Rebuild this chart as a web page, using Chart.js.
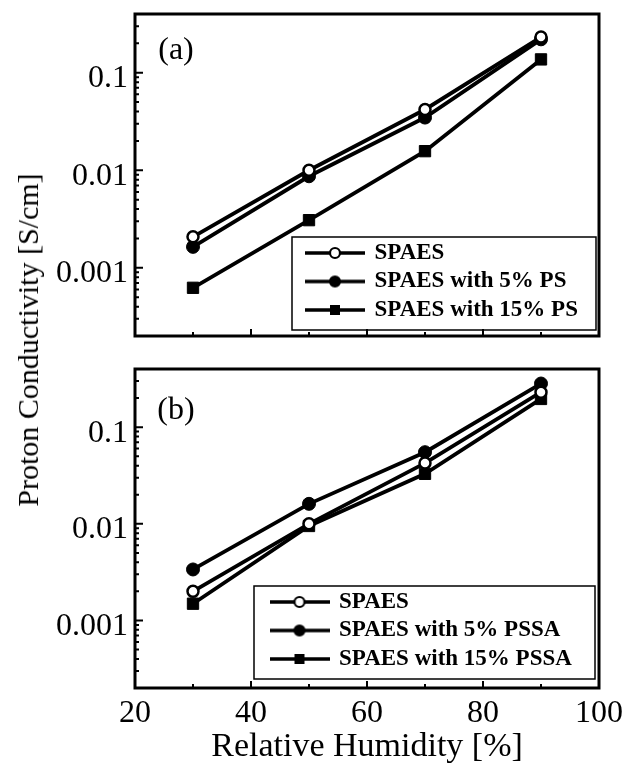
<!DOCTYPE html>
<html>
<head>
<title>Proton Conductivity vs Relative Humidity</title>
<script src="https://cdn.jsdelivr.net/npm/chart.js"></script>
<style>
  body { margin: 0; width: 625px; height: 767px; position: relative; background: #fff; overflow: hidden; }
  canvas { position: absolute; left: 0; }
  #topChart { top: 0; }
  #botChart { top: 350px; }
  #ytitle { position: absolute; left: 28px; top: 340px; transform: translate(-50%, -50%) rotate(-90deg);
            font: 30px "Liberation Serif", "Times New Roman", serif; color: #000; white-space: nowrap; }
</style>
</head>
<body>
<canvas id="topChart" width="625" height="350"></canvas>
<canvas id="botChart" width="625" height="417"></canvas>
<div id="ytitle">Proton Conductivity [S/cm]</div>
<script>
// relative humidity [%]
var rh = [30, 50, 70, 90];

// panel (a), S/cm
var spaesA = [0.00208, 0.0100, 0.0420, 0.232];
var ps5    = [0.00164, 0.00868, 0.0347, 0.220];
var ps15   = [0.000624, 0.00308, 0.0157, 0.137];

// panel (b), S/cm
var spaesB = [0.00200, 0.0100, 0.0425, 0.230];
var pssa5  = [0.00337, 0.0161, 0.0551, 0.283];
var pssa15 = [0.00149, 0.0095, 0.0329, 0.196];

var namesA = ['SPAES', 'SPAES with 5% PS', 'SPAES with 15% PS'];
var namesB = ['SPAES', 'SPAES with 5% PSSA', 'SPAES with 15% PSSA'];

var xTicks = [20, 40, 60, 80, 100];
var xMinor = [30, 50, 70, 90];
var yTicks = [0.001, 0.01, 0.1];
var yTickLabels = ['0.001', '0.01', '0.1'];

const SERIF = '"Liberation Serif", "Times New Roman", serif';
const shapes = ['circle', 'circle', 'rect'];
const fills = ['#fff', '#000', '#000'];

// little line+marker pictures for the legend
function glyph(shape, fill) {
  const c = document.createElement('canvas');
  c.width = 60; c.height = 18;
  const g = c.getContext('2d');
  g.strokeStyle = '#000'; g.lineWidth = 3.5;
  g.beginPath(); g.moveTo(0, 9); g.lineTo(60, 9); g.stroke();
  g.fillStyle = fill; g.lineWidth = 2.2;
  if (shape === 'rect') {
    g.fillRect(25, 4, 10, 10);
  } else {
    g.beginPath(); g.arc(30, 9, 5, 0, Math.PI * 2); g.fill(); g.stroke();
  }
  return c;
}
const glyphs = shapes.map((s, i) => glyph(s, fills[i]));

function makeSets(series, names) {
  return series.map((ys, i) => ({
    label: names[i],
    data: rh.map((x, j) => ({ x: x, y: ys[j] })),
    borderColor: '#000',
    borderWidth: 3.8,
    tension: 0,
    fill: false,
    pointStyle: shapes[i],
    pointRadius: shapes[i] === 'rect' ? 8 : (i === 0 ? 5.5 : 6.5),
    pointBackgroundColor: fills[i],
    pointBorderColor: '#000',
    pointBorderWidth: i === 0 ? 2.5 : 1
  }));
}

const framePlugin = {
  id: 'frame',
  afterLayout(chart, args, o) {
    chart.legend.left = o.legendX;
    chart.legend.top = o.legendY;
    chart.legend.bottom = chart.height;
  },
  afterDraw(chart, args, o) {
    const ctx = chart.ctx, a = chart.chartArea, sx = chart.scales.x, sy = chart.scales.y;
    ctx.save();
    ctx.strokeStyle = '#000';
    ctx.lineWidth = 1.5;
    ctx.strokeRect(o.box[0], o.box[1], o.box[2], o.box[3]);
    ctx.lineWidth = 2;
    ctx.beginPath();
    for (let e = -4; e <= 0; e++) {
      for (let k = 1; k <= 9; k++) {
        const v = k * Math.pow(10, e);
        if (v < sy.min * 0.999 || v > sy.max * 1.001) continue;
        const y = sy.getPixelForValue(v);
        ctx.moveTo(a.left, y); ctx.lineTo(a.left + (k === 1 ? 8 : 4), y);
      }
    }
    xTicks.forEach(v => { const x = sx.getPixelForValue(v); ctx.moveTo(x, a.bottom); ctx.lineTo(x, a.bottom - 7); });
    xMinor.forEach(v => { const x = sx.getPixelForValue(v); ctx.moveTo(x, a.bottom); ctx.lineTo(x, a.bottom - 4); });
    ctx.stroke();
    ctx.lineWidth = 3;
    ctx.strokeRect(a.left, a.top, a.right - a.left, a.bottom - a.top);
    ctx.fillStyle = '#000';
    ctx.font = '32px ' + SERIF;
    ctx.textAlign = 'center';
    ctx.textBaseline = 'middle';
    ctx.fillText(o.tag, o.tagX, o.tagY);
    ctx.restore();
  }
};

function makeChart(id, sets, names, showX, padTop, xHeight, pos) {
  return new Chart(document.getElementById(id), {
    type: 'line',
    data: { datasets: makeSets(sets, names) },
    plugins: [framePlugin],
    options: {
      responsive: false,
      animation: false,
      events: [],
      layout: { padding: { top: padTop, right: 26, left: 0, bottom: 0 } },
      scales: {
        x: {
          type: 'linear', min: 20, max: 100,
          grid: { display: false, drawTicks: false },
          border: { display: false },
          afterBuildTicks: s => { s.ticks = xTicks.map(v => ({ value: v })); },
          ticks: { display: showX, autoSkip: false, maxRotation: 0, padding: 6, color: '#000',
                   font: { family: SERIF, size: 32 } },
          title: { display: showX, text: 'Relative Humidity [%]', color: '#000',
                   font: { family: SERIF, size: 34 }, padding: { top: 0, bottom: 0 } },
          afterFit: s => { s.height = xHeight; s.paddingLeft = 0; s.paddingRight = 0; }
        },
        y: {
          type: 'logarithmic', min: 0.0002, max: 0.4,
          grid: { display: false, drawTicks: false },
          border: { display: false },
          afterBuildTicks: s => { s.ticks = yTicks.map(v => ({ value: v })); },
          ticks: { autoSkip: false, padding: 7, labelOffset: 6, color: '#000',
                   font: { family: SERIF, size: 32 },
                   callback: (v, i) => yTickLabels[i] },
          afterFit: s => { s.width = 135; s.paddingTop = 0; s.paddingBottom = 0; }
        }
      },
      plugins: {
        tooltip: { enabled: false },
        title: { display: false },
        legend: {
          position: 'chartArea',
          align: 'start',
          labels: {
            usePointStyle: true,
            pointStyleWidth: 56,
            padding: 5.5,
            color: '#000',
            font: { family: SERIF, size: 23, weight: 'bold' },
            generateLabels: ch => ch.data.datasets.map((d, i) => ({
              text: d.label, pointStyle: glyphs[i], datasetIndex: i, hidden: false,
              lineWidth: 0, fillStyle: '#000', strokeStyle: '#000', fontColor: '#000'
            }))
          }
        },
        frame: pos
      }
    }
  });
}

var chartA = makeChart('topChart', [spaesA, ps5, ps15], namesA, false, 14, 14,
  { legendX: 301.5, legendY: 236, box: [292, 237, 304, 93], tag: '(a)', tagX: 176, tagY: 51 });
var chartB = makeChart('botChart', [spaesB, pssa5, pssa15], namesB, true, 19, 79,
  { legendX: 266, legendY: 235, box: [254, 236, 341, 93], tag: '(b)', tagX: 176, tagY: 61 });
</script>
</body>
</html>
